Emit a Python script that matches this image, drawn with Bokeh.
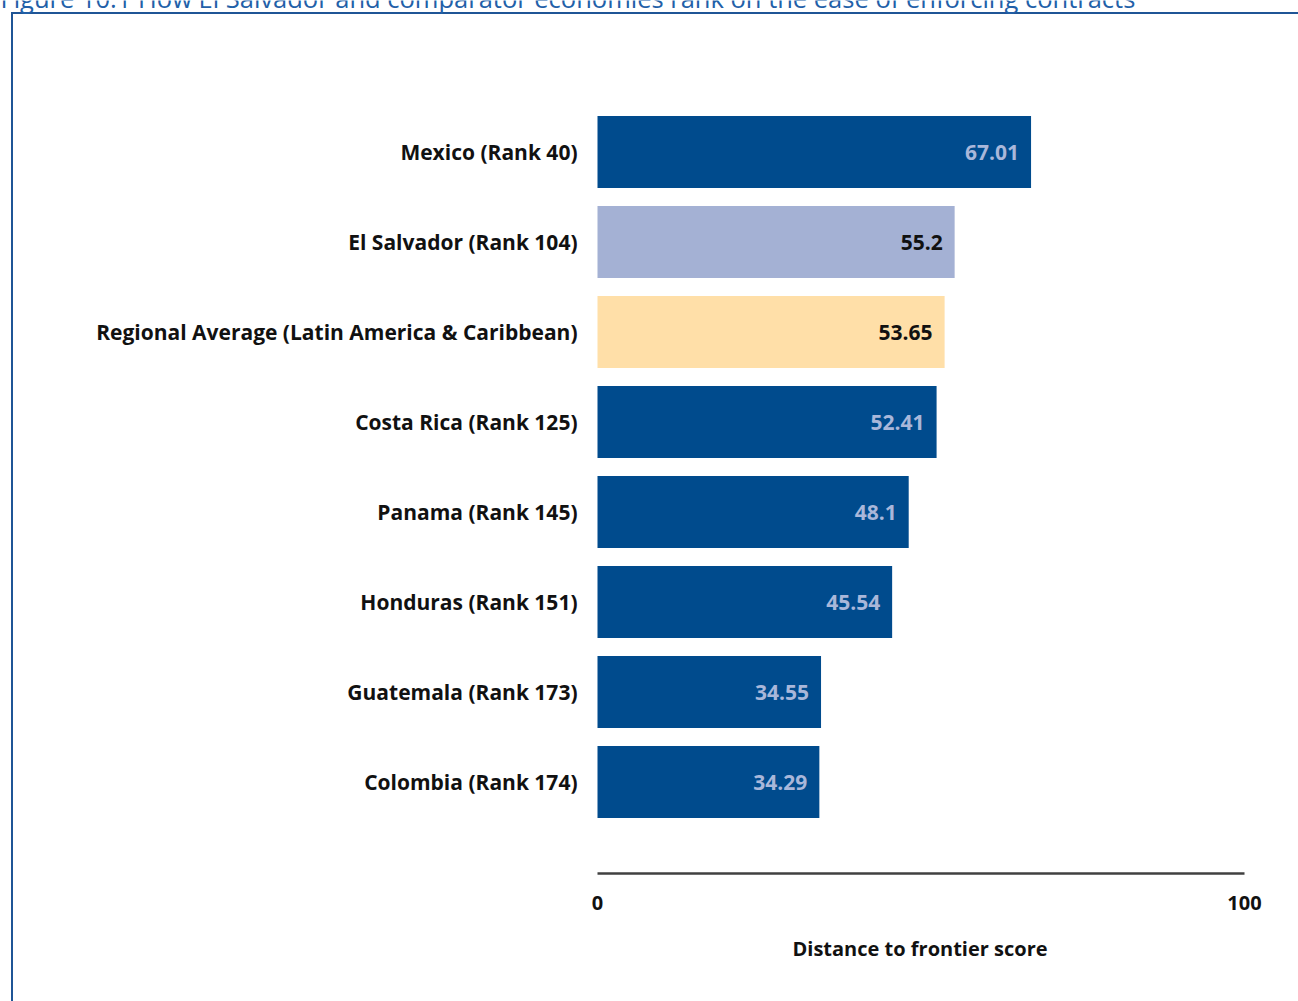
from bokeh.plotting import figure
from bokeh.models import ColumnDataSource, Range1d, FixedTicker, LinearAxis, Label, Title
from bokeh.core.properties import value
from bokeh.embed import file_html
from bokeh.resources import INLINE

# ---- data ----
categories = [
    "Mexico (Rank 40)",
    "El Salvador (Rank 104)",
    "Regional Average (Latin America & Caribbean)",
    "Costa Rica (Rank 125)",
    "Panama (Rank 145)",
    "Honduras (Rank 151)",
    "Guatemala (Rank 173)",
    "Colombia (Rank 174)",
]
scores = [67.01, 55.2, 53.65, 52.41, 48.1, 45.54, 34.55, 34.29]
score_labels = ["67.01", "55.2", "53.65", "52.41", "48.1", "45.54", "34.55", "34.29"]
bar_kind = ["other", "focus", "region", "other", "other", "other", "other", "other"]
x_ticks = [0, 100]
x_title = "Distance to frontier score"
title_text = "Figure 10.1 How El Salvador and comparator economies rank on the ease of enforcing contracts"

# ---- styling ----
FILL = {"other": "#004b8d", "focus": "#a4b1d4", "region": "#ffdfa8"}
TXT = {"other": "#a9b7da", "focus": "#111111", "region": "#111111"}
FONT = "Open Sans"

W, H = 1298, 1001
frame_bottom_px = 873
px_per_unit = 6.47
zero_px = 597
row_px = 90
n = len(categories)
first_center_px = 151.5

x_start = -zero_px / px_per_unit
x_end = (W - zero_px) / px_per_unit
y_end = n + first_center_px / row_px
y_start = y_end - frame_bottom_px / row_px

ypos = [n - i for i in range(n)]
src = ColumnDataSource(dict(
    y=ypos,
    score=scores,
    cat=categories,
    lab=score_labels,
    fill=[FILL[k] for k in bar_kind],
    tcol=[TXT[k] for k in bar_kind],
    zero=[0] * n,
))

p = figure(width=W, height=H, output_backend="svg", toolbar_location=None,
           x_range=Range1d(x_start, x_end), y_range=Range1d(y_start, y_end),
           x_axis_location=None, y_axis_location=None,
           min_border_left=0, min_border_right=0, min_border_top=0,
           min_border_bottom=H - frame_bottom_px)
p.grid.visible = False
p.outline_line_color = None
p.border_fill_alpha = 0
p.background_fill_alpha = 0
p.styles = {
    "position": "fixed",
    "top": "0px",
    "left": "0px",
    "background": "linear-gradient(#1f5596,#1f5596) 11px 12px / 2px 100% no-repeat, "
                  "linear-gradient(#1f5596,#1f5596) 11px 12px / 100% 2px no-repeat, #ffffff",
}

p.hbar(y="y", left="zero", right="score", height=0.8, fill_color="fill",
       line_color=None, source=src)

p.text(x="zero", y="y", text="cat", x_offset=-20, text_align="right",
       text_baseline="middle", text_font=value(FONT), text_font_style="bold",
       text_font_size="21px", text_color="#111111", source=src)

p.text(x="score", y="y", text="lab", x_offset=-12, text_align="right",
       text_baseline="middle", text_font=value(FONT), text_font_style="bold",
       text_font_size="21px", text_color="tcol", source=src)

xa = LinearAxis(bounds=(0, 100), ticker=FixedTicker(ticks=x_ticks))
xa.axis_line_color = "#404040"
xa.axis_line_width = 2.5
xa.major_tick_line_color = None
xa.minor_tick_line_color = None
xa.major_label_text_font = FONT
xa.major_label_text_font_style = "bold"
xa.major_label_text_font_size = "20px"
xa.major_label_text_color = "#111111"
xa.major_label_standoff = 16
p.add_layout(xa, "below")

xt = Title(text=x_title, align="left", offset=792,
           text_font=FONT, text_font_style="bold", text_font_size="20px",
           text_color="#111111", standoff=41)
p.add_layout(xt, "below")

title = Label(x=x_start, y=y_end + 3 / row_px, text=title_text,
              text_font=FONT, text_font_size="25.5px", text_color="#2260a8",
              text_baseline="alphabetic", text_align="left")
p.add_layout(title)

open("out.html", "w").write(file_html(p, INLINE))
